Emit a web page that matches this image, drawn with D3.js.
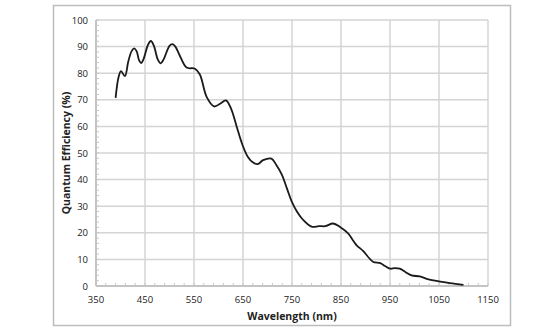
<!DOCTYPE html>
<html><head><meta charset="utf-8">
<script src="https://cdn.jsdelivr.net/npm/d3@7"></script>
<style>body{margin:0;background:#fff}svg{display:block}text{font-family:"Open Sans","Noto Sans",sans-serif}</style>
</head><body><svg id="c" width="554" height="331"></svg>
<script>
const wavelength = [390,396,401,409,416,423,428,433,438,442,447,456,462,468,476,482,488,500,506,512,522,535,552,562,576,591,603,615,625,637,649,660,670,680,691,708,718,729,740,750,760,772,790,805,818,834,848,865,875,882,895,905,916,930,940,950,960,970,982,994,1011,1025,1045,1072,1100];
const qe = [70.7,78.5,80.8,78.9,84.5,88.4,89.3,88.2,84.8,83.8,85.3,90.6,92.1,90.4,85.2,83.7,85.2,90.3,90.9,90,86.2,82.1,81.7,79.5,71,67.5,68.5,69.8,67,60,53,48.5,46.5,45.8,47.3,47.9,45.5,42,36.5,31.5,28,25,22.3,22.5,22.5,23.5,22.2,19.7,17,15.3,13.2,11,9.0,8.6,7.5,6.5,6.7,6.5,5.2,4.0,3.6,2.7,1.9,1.1,0.4];
const xTicks = [350,450,550,650,750,850,950,1050,1150];
const yTicks = [0,10,20,30,40,50,60,70,80,90,100];
const xTitle = "Wavelength (nm)";
const yTitle = "Quantum Efficiency (%)";

const svg = d3.select("#c");
const L=96,R=488,T=20,B=286;
const x = d3.scaleLinear().domain([350,1150]).range([L,R]);
const y = d3.scaleLinear().domain([0,100]).range([B,T]);
const grid="#d4d4d4";

svg.append("rect").attr("x",53.5).attr("y",5.5).attr("width",457).attr("height",320)
  .attr("fill","none").attr("stroke","#bdbdbd").attr("stroke-width",1.5);

svg.append("g").selectAll("line").data(xTicks).join("line")
  .attr("x1",d=>x(d)).attr("x2",d=>x(d)).attr("y1",T).attr("y2",B)
  .attr("stroke",grid).attr("stroke-width",1.5);
svg.append("g").selectAll("line").data(yTicks).join("line")
  .attr("x1",L).attr("x2",R).attr("y1",d=>y(d)).attr("y2",d=>y(d))
  .attr("stroke",grid).attr("stroke-width",1.5);

const xMinor = d3.range(350,1151,20);
const yMinor = d3.range(0,101,2);
svg.append("g").selectAll("line").data(xMinor).join("line")
  .attr("x1",d=>x(d)).attr("x2",d=>x(d)).attr("y1",B).attr("y2",B-3)
  .attr("stroke","#c8c8c8").attr("stroke-width",1);
svg.append("g").selectAll("line").data(yMinor).join("line")
  .attr("x1",L).attr("x2",L+3).attr("y1",d=>y(d)).attr("y2",d=>y(d))
  .attr("stroke","#c8c8c8").attr("stroke-width",1);

svg.append("line").attr("x1",L).attr("x2",R).attr("y1",B).attr("y2",B).attr("stroke","#c4c4c4").attr("stroke-width",2);
svg.append("line").attr("x1",L).attr("x2",L).attr("y1",T).attr("y2",B).attr("stroke","#c4c4c4").attr("stroke-width",2);

svg.append("g").selectAll("text").data(xTicks).join("text")
  .attr("x",d=>x(d)).attr("y",303).attr("text-anchor","middle")
  .attr("font-size",9.5).attr("fill","#222").text(d=>d);
svg.append("g").selectAll("text").data(yTicks).join("text")
  .attr("x",88).attr("y",d=>y(d)+3.5).attr("text-anchor","end")
  .attr("font-size",9.5).attr("fill","#222").text(d=>d);

svg.append("text").attr("x",292).attr("y",320).attr("text-anchor","middle")
  .attr("font-size",10.5).attr("font-weight","bold").attr("fill","#222").text(xTitle);
svg.append("text").attr("transform","translate(70,153) rotate(-90)").attr("text-anchor","middle")
  .attr("font-size",10.5).attr("font-weight","bold").attr("fill","#222").text(yTitle);

const line = d3.line().x((d,i)=>x(wavelength[i])).y(d=>y(d)).curve(d3.curveCatmullRom.alpha(0.5));
svg.append("path").datum(qe).attr("d",line).attr("fill","none")
  .attr("stroke","#1a1a1a").attr("stroke-width",1.8).attr("stroke-linejoin","round");
</script></body></html>
